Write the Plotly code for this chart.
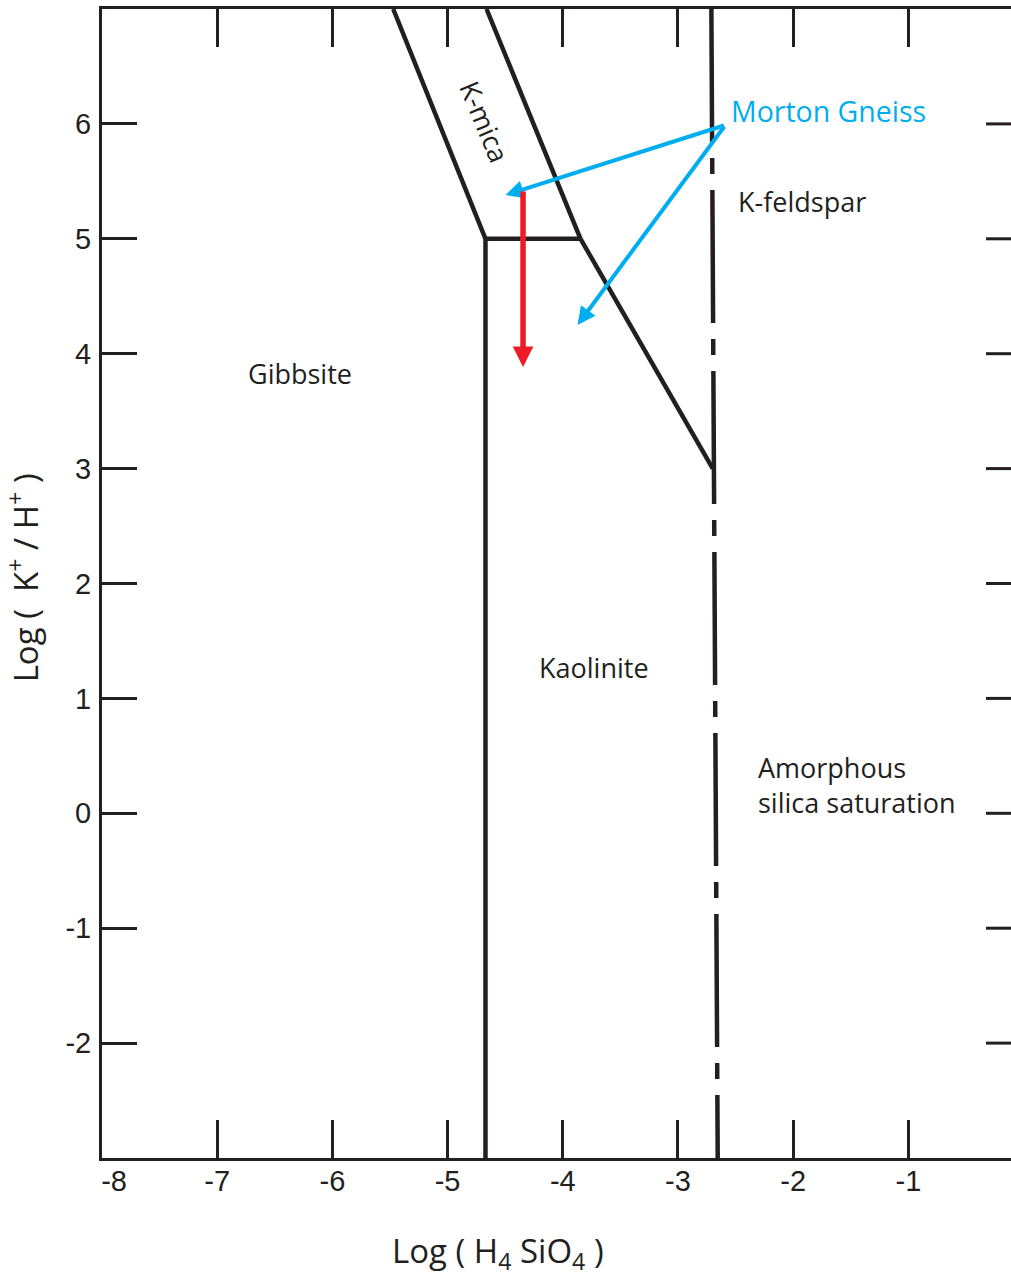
import plotly.graph_objects as go

# ---- data ----
x_ticks = [-8, -7, -6, -5, -4, -3, -2, -1]
x_ticktext = ["\u00a0\u00a0\u00a0-8", "-7", "-6", "-5", "-4", "-3", "-2", "-1"]
y_ticks = [-2, -1, 0, 1, 2, 3, 4, 5, 6]

kmica_left_x = [-5.472, -4.671]
kmica_left_y = [7, 5]
kmica_right_x = [-4.662, -3.846]
kmica_right_y = [7, 5]
kmica_base_x = [-4.671, -3.846]
kmica_base_y = [5, 5]
gibbsite_kaol_x = [-4.671, -4.671]
gibbsite_kaol_y = [5, -3]
kaol_kfsp_x = [-3.846, -2.698]
kaol_kfsp_y = [5, 3]
silica_x = [-2.71, -2.655]
silica_y = [7, -3]

# arrows: (tail_x, tail_y, head_x, head_y)
blue_arrows = [(-2.588, 5.99, -4.497, 5.381), (-2.588, 5.99, -3.872, 4.25)]
red_arrow = (-4.345, 5.425, -4.345, 3.884)

labels = ["Gibbsite", "Kaolinite", "K-feldspar", "Amorphous<br>silica saturation"]
label_x = [-6.277, -3.733, -2.492, -2.327]
label_y = [3.832, 1.273, 5.329, 0.242]
label_anchor = ["center", "center", "left", "left"]

kmica_label = "K-mica"
kmica_pos = (-4.675, 6.025)
morton_label = "Morton Gneiss"
morton_pos = (-2.561, 6.112)

BLACK = "#231f20"
BLUE = "#00aeef"
RED = "#ed1c24"
LW = 4.5

fig = go.Figure()

def seg(xs, ys, dash="solid"):
    fig.add_trace(go.Scatter(x=xs, y=ys, mode="lines",
                             line=dict(color=BLACK, width=LW, dash=dash),
                             hoverinfo="skip", showlegend=False))

seg(kmica_left_x, kmica_left_y)
seg(kmica_right_x, kmica_right_y)
seg(kmica_base_x, kmica_base_y)
seg(gibbsite_kaol_x, gibbsite_kaol_y)
seg(kaol_kfsp_x, kaol_kfsp_y)
seg(silica_x, silica_y, dash="133px,16px,16px,16px")

annotations = []
for t, x, y, a in zip(labels, label_x, label_y, label_anchor):
    annotations.append(dict(x=x, y=y, xref="x", yref="y", text=t, showarrow=False,
                            xanchor=a, yanchor="middle", align="left",
                            font=dict(family="Open Sans", size=27, color=BLACK)))
annotations.append(dict(x=kmica_pos[0], y=kmica_pos[1], xref="x", yref="y", text=kmica_label,
                        showarrow=False, textangle=67.5,
                        font=dict(family="Open Sans", size=27, color=BLACK)))
annotations.append(dict(x=morton_pos[0], y=morton_pos[1], xref="x", yref="y", text=morton_label,
                        showarrow=False, xanchor="left", yanchor="middle",
                        font=dict(family="Open Sans", size=28.5, color=BLUE)))

for tx, ty, hx, hy in blue_arrows:
    annotations.append(dict(x=hx, y=hy, ax=tx, ay=ty, xref="x", yref="y", axref="x", ayref="y",
                            text="", showarrow=True, arrowhead=2, arrowsize=0.9,
                            arrowwidth=4, arrowcolor=BLUE, standoff=0, startstandoff=0))
tx, ty, hx, hy = red_arrow
annotations.append(dict(x=hx, y=hy, ax=tx, ay=ty, xref="x", yref="y", axref="x", ayref="y",
                        text="", showarrow=True, arrowhead=2, arrowsize=0.75,
                        arrowwidth=5.5, arrowcolor=RED, standoff=0, startstandoff=0))

# axis titles
annotations.append(dict(x=0.4356, y=-0.082, xref="paper", yref="paper",
                        text="Log ( H<sub>4</sub>\u00a0SiO<sub>4</sub>\u00a0)", showarrow=False,
                        xanchor="center", yanchor="middle",
                        font=dict(family="Open Sans", size=33, color=BLACK)))
annotations.append(dict(x=-0.0854, y=0.5048, xref="paper", yref="paper",
                        text="Log (\u00a0 K<sup>+</sup> / H<sup>+</sup>\u00a0)", showarrow=False,
                        textangle=-90, xanchor="center", yanchor="middle",
                        font=dict(family="Open Sans", size=33, color=BLACK)))

# right-side inner ticks
shapes = []
for yt in y_ticks:
    shapes.append(dict(type="line", xref="paper", yref="y", x0=0.9725, x1=1.0, y0=yt, y1=yt,
                       line=dict(color=BLACK, width=3)))

fig.update_layout(
    width=1011, height=1279,
    margin=dict(l=102, r=0, t=9, b=121),
    plot_bgcolor="white", paper_bgcolor="white",
    annotations=annotations, shapes=shapes,
    xaxis=dict(range=[-8, -0.109], tickvals=x_ticks, ticktext=x_ticktext,
               ticks="inside", ticklen=38, tickwidth=3, tickcolor=BLACK,
               showline=True, linewidth=3, linecolor=BLACK, mirror="ticks",
               showgrid=False, zeroline=False, ticklabelstandoff=-5,
               tickfont=dict(family="Liberation Sans", size=29, color=BLACK)),
    yaxis=dict(range=[-3, 7], tickvals=y_ticks, ticktext=[str(v) for v in y_ticks],
               ticks="inside", ticklen=35, tickwidth=3, tickcolor=BLACK,
               showline=True, linewidth=3, linecolor=BLACK, mirror=False,
               showgrid=False, zeroline=False, ticklabelstandoff=2,
               tickfont=dict(family="Liberation Sans", size=29, color=BLACK)),
)

fig.write_html("out.html", config={"displayModeBar": False},
               post_script="document.body.style.margin='0px';document.body.style.overflow='hidden';")
